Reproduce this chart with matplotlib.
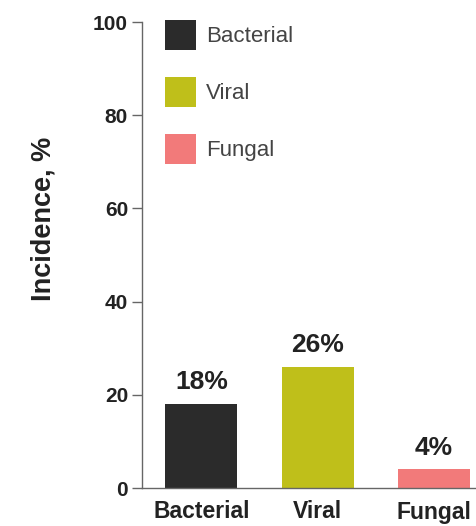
import matplotlib
matplotlib.use("Agg")
import matplotlib.pyplot as plt
from matplotlib.patches import Patch

categories = ["Bacterial", "Viral", "Fungal"]
values = [18, 26, 4]
value_labels = ["18%", "26%", "4%"]
colors = ["#2b2b2b", "#bfbf1a", "#f27a7a"]
yticks = [0, 20, 40, 60, 80, 100]

plt.rcParams['font.family'] = ['Liberation Sans', 'DejaVu Sans']

fig = plt.figure(figsize=(4.77, 5.26), dpi=100)
ax = fig.add_axes([142/477, 1-488/526, 1-142/477, (488-22)/526])

x = list(range(len(categories)))
bars = ax.bar(x, values, width=0.62, color=colors)
for xi, v, lab in zip(x, values, value_labels):
    ax.annotate(lab, (xi, v), xytext=(0, 7), textcoords="offset points",
                ha="center", va="bottom", fontsize=19, fontweight="bold", color="#222222")

ax.set_xlim(-0.51, 2.37)
ax.set_ylim(0, 100)
ax.set_yticks(yticks)
ax.set_yticklabels([str(t) for t in yticks], fontsize=15, fontweight="bold", color="#222222")
ax.set_xticks(x)
ax.set_xticklabels(categories, fontsize=16.5, fontweight="bold", color="#222222")
ax.tick_params(axis="x", length=0, pad=9)
ax.tick_params(axis="y", length=7, width=1, color="#666666", pad=3)
for s in ["top", "right"]:
    ax.spines[s].set_visible(False)
for s in ["left", "bottom"]:
    ax.spines[s].set_color("#666666")
    ax.spines[s].set_linewidth(1)

fig.text(44/477, 1-219/526, "Incidence, %", rotation=90, ha="center", va="center",
         fontsize=19.5, fontweight="bold", color="#222222")

handles = [Patch(facecolor=c, edgecolor="none") for c in colors]
leg = ax.legend(handles, categories, loc="upper left",
                bbox_to_anchor=(165/477, 1-20/526), bbox_transform=fig.transFigure,
                frameon=False, fontsize=16, handlelength=1.4, handleheight=1.7,
                handletextpad=0.45, labelspacing=1.22, borderpad=0, borderaxespad=0)
for t in leg.get_texts():
    t.set_color("#444444")

fig.savefig("out.png", dpi=100, facecolor="white")
